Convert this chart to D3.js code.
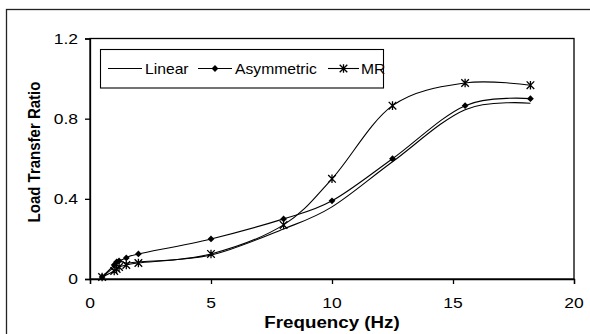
<!DOCTYPE html>
<html>
<head>
<meta charset="utf-8">
<script src="https://cdn.jsdelivr.net/npm/d3@7"></script>
<style>
html,body{margin:0;padding:0;background:#fff;}
svg{display:block;}
text{font-family:Arial,"Liberation Sans",sans-serif;fill:#000;}
</style>
</head>
<body>
<svg id="chart" width="590" height="334"></svg>
<script>
const freq = [0.5, 1.0, 1.1, 1.2, 1.5, 2, 5, 8, 10, 12.5, 15.5, 18.2];
const linear = [0.01, 0.06, 0.08, 0.09, 0.08, 0.085, 0.12, 0.25, 0.36, 0.585, 0.845, 0.877];
const asymmetric = [0.01, 0.07, 0.085, 0.09, 0.105, 0.125, 0.2, 0.3, 0.39, 0.6, 0.865, 0.9];
const mr = [0.01, 0.04, 0.05, 0.06, 0.07, 0.08, 0.125, 0.27, 0.5, 0.865, 0.978, 0.967];
const seriesNames = ["Linear", "Asymmetric", "MR"];
const xTicks = [0, 5, 10, 15, 20];
const yTicks = [0, 0.4, 0.8, 1.2];
const xTitle = "Frequency (Hz)";
const yTitle = "Load Transfer Ratio";

const svg = d3.select("#chart");
const L = 90, R = 574, T = 38.5, B = 279;
const x = d3.scaleLinear().domain([0, 20]).range([L, R]);
const y = d3.scaleLinear().domain([0, 1.2]).range([B, T]);
const SX = 1.2;

// outer frame
svg.append("rect").attr("x", 6.5).attr("y", 9.5).attr("width", 620).attr("height", 360)
  .attr("fill", "none").attr("stroke", "#222").attr("stroke-width", 1.3);

// plot frame
svg.append("rect").attr("x", L).attr("y", T).attr("width", R - L).attr("height", B - T)
  .attr("fill", "none").attr("stroke", "#000").attr("stroke-width", 1.3);

// axes
const xAxis = svg.append("g").attr("transform", `translate(0,${B})`)
  .call(d3.axisBottom(x).tickValues(xTicks).tickSize(5).tickFormat(d3.format("d")));
const yAxis = svg.append("g").attr("transform", `translate(${L},0)`)
  .call(d3.axisLeft(y).tickValues(yTicks).tickSize(5).tickFormat(d => d === 0 ? "0" : d3.format(".1f")(d)));
[xAxis, yAxis].forEach(g => {
  g.select(".domain").attr("stroke", "#000").attr("stroke-width", 1.3);
  g.selectAll(".tick line").attr("stroke", "#000").attr("stroke-width", 1.3);
  g.selectAll(".tick text").remove();
});
// tick labels with horizontal stretch
xTicks.forEach(t => {
  svg.append("text").attr("transform", `translate(${x(t)},307.5) scale(1.25,1)`)
    .attr("text-anchor", "middle").attr("font-size", 14).text(t);
});
yTicks.forEach(t => {
  svg.append("text").attr("transform", `translate(78,${y(t) + 5}) scale(1.25,1)`)
    .attr("text-anchor", "end").attr("font-size", 14).text(t === 0 ? "0" : d3.format(".1f")(t));
});

// titles
svg.append("text").attr("transform", `translate(${(L + R) / 2},328) scale(1.15,1)`)
  .attr("text-anchor", "middle").attr("font-size", 16.3).attr("font-weight", "bold").text(xTitle);
svg.append("text").attr("transform", `translate(40,152) scale(1.15,1) rotate(-90)`)
  .attr("text-anchor", "middle").attr("font-size", 15).attr("font-weight", "bold").text(yTitle);

// series
const data = [linear, asymmetric, mr];
const line = d3.line().x(d => x(d[0])).y(d => y(d[1])).curve(d3.curveCardinal.tension(0));
data.forEach(vals => {
  const pts = freq.map((f, i) => [f, vals[i]]);
  svg.append("path").attr("d", line(pts)).attr("fill", "none").attr("stroke", "#000").attr("stroke-width", 1.1);
});

function diamond(g, cx, cy) {
  const s = 3.4;
  g.append("path").attr("d", `M${cx},${cy - s}L${cx + s},${cy}L${cx},${cy + s}L${cx - s},${cy}Z`).attr("fill", "#000");
}
function star(g, cx, cy) {
  const s = 3.8;
  g.append("path").attr("d",
    `M${cx - s},${cy - s}L${cx + s},${cy + s}M${cx - s},${cy + s}L${cx + s},${cy - s}M${cx},${cy - s - 0.5}L${cx},${cy + s + 0.5}`)
    .attr("stroke", "#000").attr("stroke-width", 1.3).attr("fill", "none");
}
const mk = svg.append("g");
freq.forEach((f, i) => diamond(mk, x(f), y(asymmetric[i])));
freq.forEach((f, i) => star(mk, x(f), y(mr[i])));

// legend
const lg = svg.append("g");
lg.append("rect").attr("x", 100.5).attr("y", 49.5).attr("width", 283).attr("height", 38.5)
  .attr("fill", "#fff").attr("stroke", "#000").attr("stroke-width", 1.1);
const ly = 68.5;
const items = [
  {name: seriesNames[0], x1: 108, x2: 142, tx: 145, m: null},
  {name: seriesNames[1], x1: 198, x2: 232, tx: 235, m: diamond},
  {name: seriesNames[2], x1: 328, x2: 359, tx: 361, m: star}
];
items.forEach(it => {
  lg.append("line").attr("x1", it.x1).attr("x2", it.x2).attr("y1", ly).attr("y2", ly)
    .attr("stroke", "#000").attr("stroke-width", 1.1);
  if (it.m) it.m(lg, (it.x1 + it.x2) / 2, ly);
  lg.append("text").attr("transform", `translate(${it.tx},${ly + 5}) scale(1.12,1)`)
    .attr("font-size", 14).text(it.name);
});
</script>
</body>
</html>
